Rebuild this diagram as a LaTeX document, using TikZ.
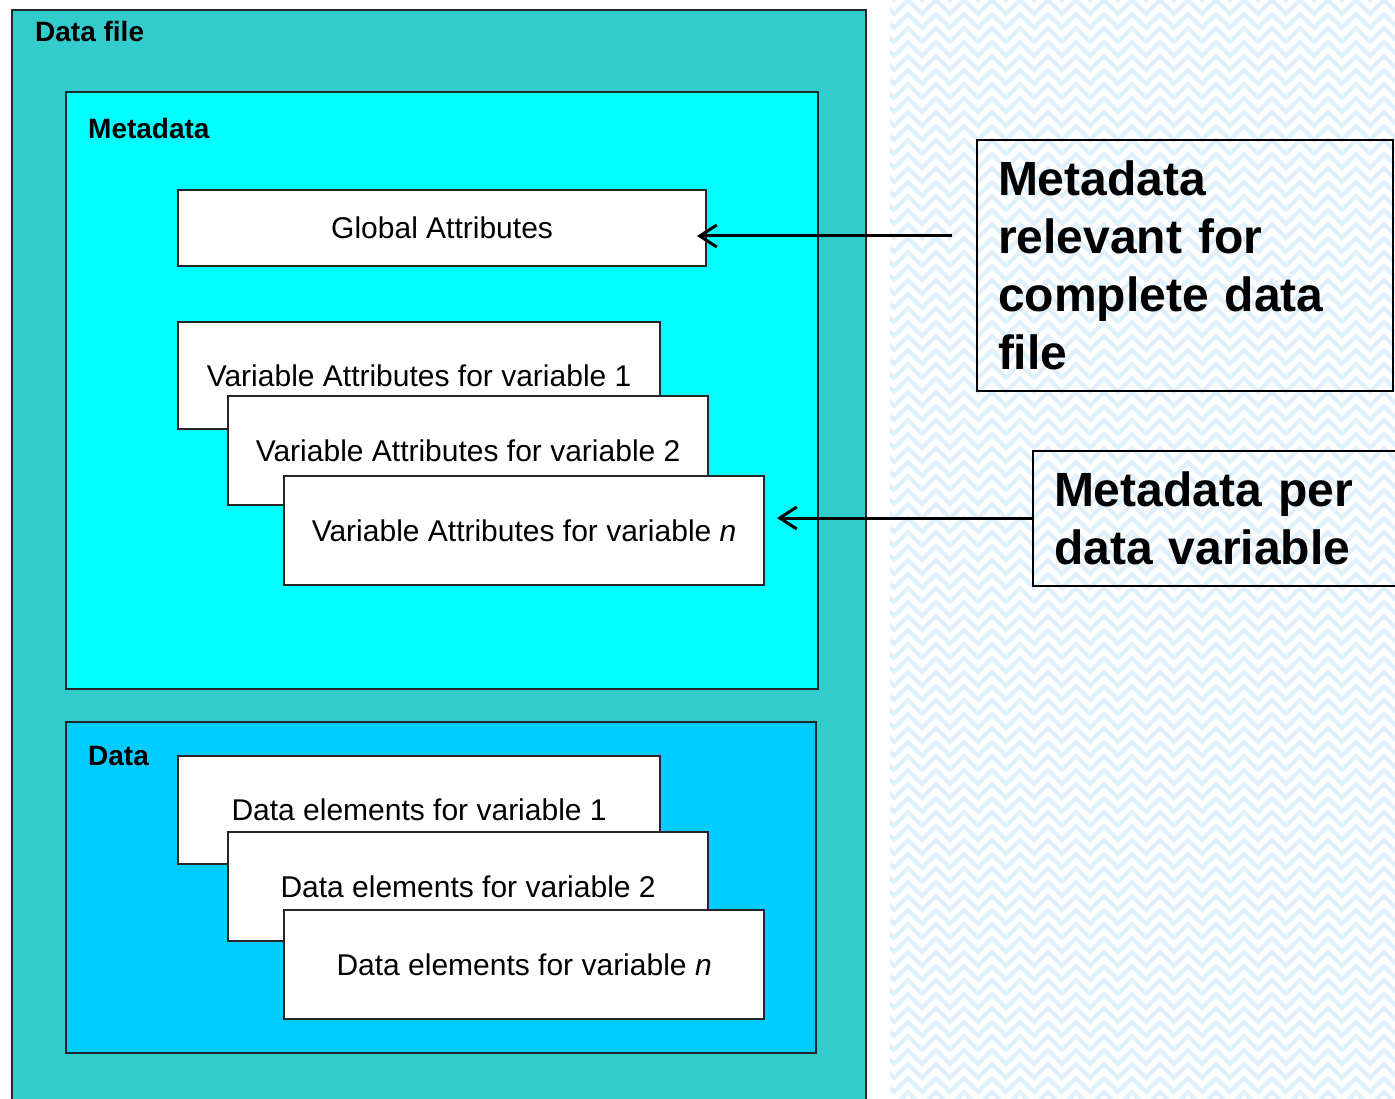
\documentclass[tikz,border=0pt]{standalone}
\usepackage{fontspec}
\setmainfont{Liberation Sans}
\usetikzlibrary{arrows.meta}

\definecolor{filecol}{HTML}{33CCCC}
\definecolor{metacol}{HTML}{00FFFF}
\definecolor{datacol}{HTML}{00CCFF}
\definecolor{weave}{HTML}{DDF0FC}

\tikzset{
  frame/.style={draw=black!85, line width=2.2pt, inner sep=0pt, anchor=north west},
  attrbox/.style={frame, fill=white, font=\fontsize{30}{36}\selectfont},
  title/.style={anchor=west, inner sep=0pt, font=\fontsize{28}{34}\selectfont\bfseries},
  note/.style={draw=black, line width=2pt, anchor=north west, align=left,
    inner xsep=21pt, inner ysep=0pt, font=\fontsize{48}{58}\selectfont\bfseries},
  pointer/.style={line width=3pt, -{Straight Barb[length=17pt,width=22pt]}}
}

\begin{document}
\begin{tikzpicture}[x=1pt,y=-1pt]
	\useasboundingbox (0,0) rectangle (1395,1099);
	\fill[white] (0,0) rectangle (1395,1099);

	%% woven backdrop on the right
	\begin{scope}
		\clip (890,0) rectangle (1395,1099);
		\foreach \r in {0,...,80}
			\draw[weave, line width=4pt] (880,-14+14*\r)
				\foreach \k in {1,...,19} { -- ++(14,14) -- ++(14,-14) };
	\end{scope}

	\node[frame, fill=filecol, minimum width=854, minimum height=1110] (DataFile) at (11,9) {};
	\node[title] (DataFileTitle) at (35,31) {Data file};

	\node[frame, fill=metacol, minimum width=752, minimum height=597] (Metadata) at (65,91) {};
	\node[title] (MetadataTitle) at (88,128) {Metadata};

	\node[attrbox, minimum width=528, minimum height=76] (GlobalAttr) at (177,189) {Global Attributes};

	\node[attrbox, minimum width=482, minimum height=107] (VarOne) at (177,321) {Variable Attributes for variable 1};
	\node[attrbox, minimum width=480, minimum height=109] (VarTwo) at (227,395) {Variable Attributes for variable 2};
	\node[attrbox, minimum width=480, minimum height=109] (VarN) at (283,475) {Variable Attributes for variable \textit{n}};

	\node[frame, fill=datacol, minimum width=750, minimum height=331] (Data) at (65,721) {};
	\node[title] (DataTitle) at (88,756) {Data};

	\node[attrbox, minimum width=482, minimum height=108] (DataOne) at (177,755) {Data elements for variable 1};
	\node[attrbox, minimum width=480, minimum height=109] (DataTwo) at (227,831) {Data elements for variable 2};
	\node[attrbox, minimum width=480, minimum height=109] (DataN) at (283,909) {Data elements for variable \textit{n}};

	%% notes on the right
	\node[note, text width=374pt, minimum height=251] (FileNote) at (976,139)
		{Metadata\\relevant for\\complete data\\file};
	\node[note, text width=346pt, minimum height=135] (VarNote) at (1032,450)
		{Metadata per\\data variable};

	\coordinate (FileTail) at (952,236);
	\coordinate (FileTip) at (697,236);
	\coordinate (VarTip) at (777,518);

	\draw[pointer] (FileTail) to (FileTip);
	\draw[pointer] (VarNote.west |- VarTip) to (VarTip);
\end{tikzpicture}
\end{document}
